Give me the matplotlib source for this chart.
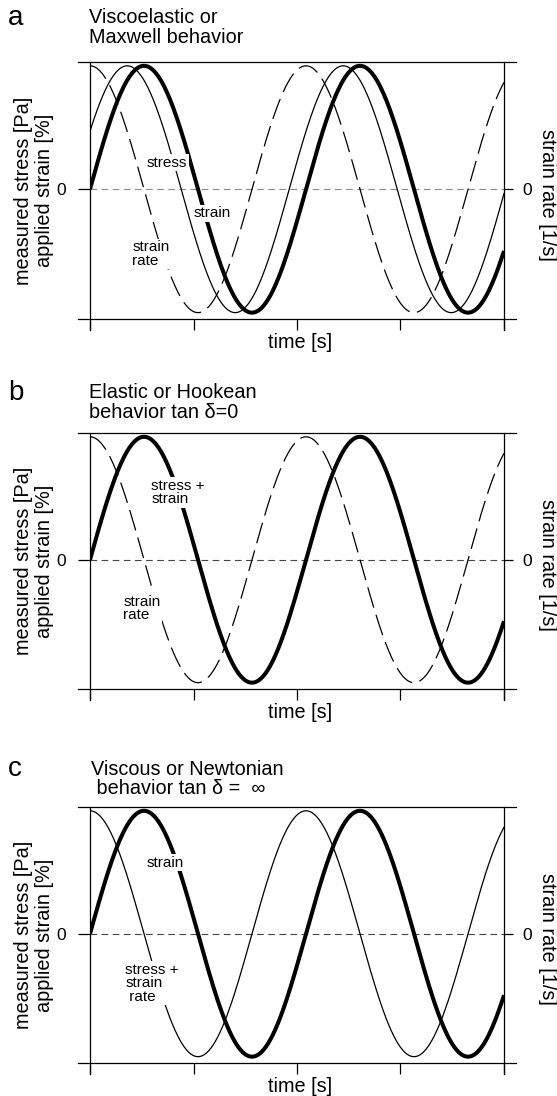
import numpy as np
import matplotlib.pyplot as plt
from matplotlib.lines import Line2D

plt.rcParams['font.family'] = ['Liberation Sans', 'DejaVu Sans']

W, H = 557, 1096

# time axis and wave parameters
time_ticks = [0, 1, 2, 3, 4]
period = 2.087        # one cycle covers about 2.09 tick intervals
amplitude = 0.97

letters = ['a', 'b', 'c']
titles = ['Viscoelastic or\nMaxwell behavior',
          'Elastic or Hookean\nbehavior tan \u03b4=0',
          'Viscous or Newtonian\n behavior tan \u03b4 =  \u221e']

# phase lead (deg) of each curve against the applied strain, and its style
phases = [[0, 28, 90], [0, 90], [0, 90]]
styles = [['thick', 'thin', 'dashed'], ['thick', 'dashed'], ['thick', 'thin']]

# curve labels and where they sit (time, value)
curve_labels = [['stress', 'strain', 'strain\nrate'],
                ['stress +\nstrain', 'strain\nrate'],
                ['strain', 'stress +\nstrain\n rate']]
label_pos = [[(0.55, 0.21), (1.0, -0.19), (0.41, -0.51)],
             [(0.59, 0.53), (0.32, -0.385)],
             [(0.55, 0.56), (0.34, -0.39)]]

# panel boxes in pixels: top and bottom of the frame
frame_top = [62, 433, 807]
frame_bot = [319, 689, 1063]
left_px, right_px = 90, 504
title_y = [(18, 37), (393, 412), (769, 789)]
title_x = [89, 89, 91]
zero_col = ['#8a8a8a', '#444444', '#444444']

line_kw = {
    'thick': dict(color='black', lw=2.9, solid_capstyle='butt'),
    'thin': dict(color='black', lw=0.9),
    'dashed': dict(color='black', lw=0.9, linestyle=(0, (17, 6))),
}

fig = plt.figure(figsize=(W / 100, H / 100), dpi=100)

t = np.linspace(time_ticks[0], time_ticks[-1], 600)

for i in range(3):
    top, bot = frame_top[i], frame_bot[i]
    ax = fig.add_axes([left_px / W, 1 - bot / H, (right_px - left_px) / W, (bot - top) / H])
    ax.set_xlim(time_ticks[0], time_ticks[-1])
    ax.set_ylim(-1.02, 1.0)
    for s in ax.spines.values():
        s.set_visible(False)

    # frame lines that run a little past the box
    ext_x = 12 / (right_px - left_px)
    ext_y = 11 / (bot - top)
    for xs, ys in [([-ext_x, 1 + ext_x], [1, 1]), ([-ext_x, 1 + ext_x], [0, 0]),
                   ([0, 0], [1, -ext_y]), ([1, 1], [1, -ext_y])]:
        ax.add_line(Line2D(xs, ys, transform=ax.transAxes, color='black', lw=0.9, clip_on=False))

    ax.axhline(0, color=zero_col[i], lw=0.8, linestyle=(0, (6, 4)), zorder=1)

    for ph, st in zip(phases[i], styles[i]):
        y = amplitude * np.sin(2 * np.pi * t / period + np.radians(ph))
        ax.plot(t, y, **line_kw[st])

    for lab, (lx, ly) in zip(curve_labels[i], label_pos[i]):
        ax.text(lx, ly, lab, fontsize=11, ha='left', va='center', linespacing=0.95,
                bbox=dict(fc='white', ec='none', pad=1.0), zorder=4)

    ax.set_xticks(time_ticks)
    ax.tick_params(axis='x', direction='out', length=8, width=0.9, labelbottom=False)
    ax.set_yticks([0])
    ax.set_yticklabels(['0'])
    ax.tick_params(axis='y', direction='out', length=8.6, width=0.9, pad=8.5, labelsize=12.5)

    ax2 = ax.twinx()
    ax2.set_ylim(ax.get_ylim())
    for s in ax2.spines.values():
        s.set_visible(False)
    ax2.set_yticks([0])
    ax2.set_yticklabels(['0'])
    ax2.tick_params(axis='y', direction='out', length=6.5, width=0.9, pad=7, labelsize=12.5)

    # texts around the panel
    fig.text(8 / W, 1 - title_y[i][0] / H, letters[i], fontsize=20, ha='left', va='center')
    fig.text(title_x[i] / W, 1 - (title_y[i][0] + title_y[i][1]) / 2 / H, titles[i],
             fontsize=14.3, ha='left', va='center', linespacing=1.05)
    fig.text(34 / W, 1 - (top + bot) / 2 / H, 'measured stress [Pa]\napplied strain [%]',
             fontsize=14.3, rotation=90, ha='center', va='center', linespacing=1.1)
    fig.text(548 / W, 1 - (top + bot + 8) / 2 / H, 'strain rate [1/s]',
             fontsize=14.3, rotation=270, ha='center', va='center')
    fig.text(300 / W, 1 - (bot + 23) / H, 'time [s]', fontsize=14.3, ha='center', va='center')

fig.savefig('out.png', dpi=100)
